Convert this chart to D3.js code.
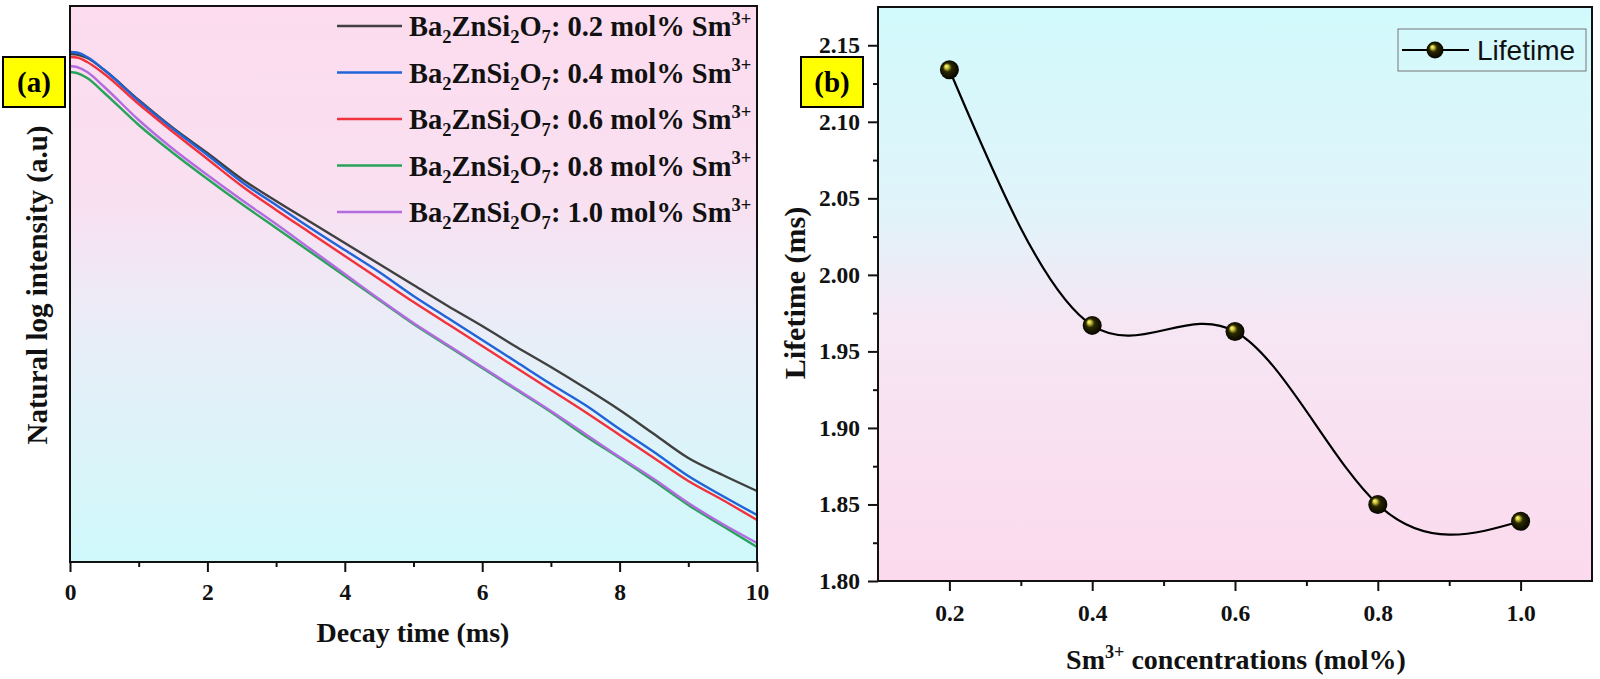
<!DOCTYPE html>
<html>
<head>
<meta charset="utf-8">
<script src="https://cdn.jsdelivr.net/npm/d3@7"></script>
<style>
    body { margin: 0; background: #fff; }
    svg { display: block; }
</style>
</head>
<body>
<svg id="chart"></svg>
<script>
// ---- data, panel (a): natural log decay curves ----
const decayTime = [0, 0.1, 0.25, 0.5, 1, 1.5, 2, 2.5, 3, 3.5, 4, 4.5, 5, 5.5, 6, 6.5, 7, 7.5, 8, 8.5, 9, 9.5, 10]
const concLabels = ["0.2", "0.4", "0.6", "0.8", "1.0"]
const lnI_02 = [8.08, 8.075, 8.04, 7.92, 7.62, 7.34, 7.09, 6.83, 6.61, 6.40, 6.19, 5.98, 5.77, 5.56, 5.36, 5.15, 4.95, 4.74, 4.52, 4.28, 4.04, 3.87, 3.71]
const lnI_04 = [8.10, 8.095, 8.05, 7.92, 7.61, 7.33, 7.07, 6.80, 6.57, 6.34, 6.12, 5.90, 5.66, 5.44, 5.22, 5.00, 4.78, 4.57, 4.33, 4.10, 3.86, 3.66, 3.47]
const lnI_06 = [8.05, 8.045, 8.00, 7.88, 7.58, 7.30, 7.03, 6.76, 6.52, 6.29, 6.06, 5.83, 5.60, 5.38, 5.16, 4.94, 4.72, 4.50, 4.27, 4.04, 3.81, 3.62, 3.42]
const lnI_08 = [7.90, 7.89, 7.84, 7.69, 7.37, 7.09, 6.83, 6.58, 6.34, 6.10, 5.86, 5.62, 5.38, 5.16, 4.94, 4.72, 4.50, 4.26, 4.04, 3.81, 3.57, 3.36, 3.15]
const lnI_10 = [7.96, 7.95, 7.90, 7.75, 7.42, 7.13, 6.87, 6.62, 6.38, 6.13, 5.88, 5.63, 5.39, 5.17, 4.95, 4.73, 4.51, 4.28, 4.05, 3.83, 3.59, 3.38, 3.19]
const decayTicks = [0, 2, 4, 6, 8, 10]
const decayMinorTicks = [1, 3, 5, 7, 9]

// ---- data, panel (b): lifetime vs concentration ----
const concentration = [0.2, 0.4, 0.6, 0.8, 1.0]
const lifetime = [2.134, 1.967, 1.963, 1.850, 1.839]
const concTicks = [0.2, 0.4, 0.6, 0.8, 1.0]
const concMinorTicks = [0.3, 0.5, 0.7, 0.9]
const lifetimeTicks = [1.80, 1.85, 1.90, 1.95, 2.00, 2.05, 2.10, 2.15]
const lifetimeMinorTicks = [1.825, 1.875, 1.925, 1.975, 2.025, 2.075, 2.125]

const seriesColors = ["#404040", "#1f64d8", "#f0323c", "#27a35a", "#b36be0"]
const serif = "'Liberation Serif', 'Times New Roman', serif"
const sans = "'Liberation Sans', Arial, sans-serif"

const W = 1600, H = 679

const svg = d3.select("svg#chart").attr("width", W).attr("height", H)
const defs = svg.append("defs")

function vGradient(id, stops) {
    const g = defs.append("linearGradient").attr("id", id)
        .attr("x1", 0).attr("y1", 0).attr("x2", 0).attr("y2", 1)
    stops.forEach(s => g.append("stop").attr("offset", s[0]).attr("stop-color", s[1]))
}
vGradient("bgA", [["0%", "#fcdcee"], ["35%", "#f9e0f1"], ["60%", "#e8eef8"], ["100%", "#cff9fb"]])
vGradient("bgB", [["0%", "#d2fafc"], ["35%", "#e0f4fa"], ["55%", "#f6e6f4"], ["100%", "#fcdaee"]])

const ball = defs.append("radialGradient").attr("id", "ball")
    .attr("cx", "50%").attr("cy", "50%").attr("r", "55%").attr("fx", "32%").attr("fy", "30%")
ball.append("stop").attr("offset", "0%").attr("stop-color", "#ffff90")
ball.append("stop").attr("offset", "16%").attr("stop-color", "#d8d040")
ball.append("stop").attr("offset", "42%").attr("stop-color", "#2a2800")
ball.append("stop").attr("offset", "100%").attr("stop-color", "#000")

// writes text made of runs; sub/sup runs are smaller and shifted
function richText(sel, parts, size) {
    let shift = 0
    parts.forEach(p => {
        const target = p.sub ? size * 0.25 : p.sup ? -size * 0.4 : 0
        sel.append("tspan")
            .attr("dy", target - shift)
            .style("font-size", (p.sub || p.sup ? size * 0.65 : size) + "px")
            .text(p.t)
        shift = target
    })
}

function styleAxis(g, fontSize) {
    g.select(".domain").remove()
    g.selectAll(".tick line").attr("stroke", "#111").attr("stroke-width", 2)
    g.selectAll(".tick text")
        .style("font-family", serif).style("font-weight", "bold")
        .style("font-size", fontSize + "px").attr("fill", "#111")
}

function title(x, y, rotate, size, txt) {
    return svg.append("text")
        .attr("transform", `translate(${x},${y})` + (rotate ? " rotate(-90)" : ""))
        .attr("text-anchor", "middle").attr("fill", "#111")
        .style("font-family", serif).style("font-weight", "bold").style("font-size", size + "px")
        .text(txt)
}

function labelBox(x, y, label) {
    svg.append("rect").attr("x", x).attr("y", y).attr("width", 62).attr("height", 50)
        .attr("fill", "#ffff00").attr("stroke", "#000").attr("stroke-width", 2)
    svg.append("text").attr("x", x + 31).attr("y", y + 35)
        .attr("text-anchor", "middle")
        .style("font-family", serif).style("font-weight", "bold").style("font-size", "29px")
        .text(label)
}

const drawDecayPanel = function () {
    const x = d3.scaleLinear().domain([0, 10]).range([70, 757])
    const y = d3.scaleLinear().domain([3.0, 8.56]).range([562, 6])
    const series = [lnI_02, lnI_04, lnI_06, lnI_08, lnI_10]

    svg.append("rect").attr("x", 70).attr("y", 6).attr("width", 687).attr("height", 556)
        .attr("fill", "url(#bgA)")

    const line = d3.line().x((d, i) => x(decayTime[i])).y(d => y(d)).curve(d3.curveMonotoneX)
    series.forEach((vals, i) => {
        svg.append("path").datum(vals).attr("d", line)
            .attr("fill", "none").attr("stroke", seriesColors[i]).attr("stroke-width", 2.4)
    })

    svg.append("rect").attr("x", 70).attr("y", 6).attr("width", 687).attr("height", 556)
        .attr("fill", "none").attr("stroke", "#111").attr("stroke-width", 2)

    const ax = svg.append("g").attr("transform", "translate(0,562)")
        .call(d3.axisBottom(x).tickValues(decayTicks).tickSize(10).tickPadding(11).tickFormat(d3.format("d")))
    styleAxis(ax, 23.5)
    const axm = svg.append("g").attr("transform", "translate(0,562)")
        .call(d3.axisBottom(x).tickValues(decayMinorTicks).tickSize(5).tickFormat(""))
    styleAxis(axm, 23.5)

    title(413, 642, false, 28, "Decay time (ms)")
    title(47, 285, true, 29, "Natural log intensity (a.u)")

    // legend
    concLabels.forEach((c, i) => {
        const ly = 26 + i * 46.5
        svg.append("line").attr("x1", 337).attr("x2", 402).attr("y1", ly).attr("y2", ly)
            .attr("stroke", seriesColors[i]).attr("stroke-width", 2.5)
        const t = svg.append("text").attr("x", 409).attr("y", ly + 10)
            .style("font-family", serif).style("font-weight", "bold").attr("fill", "#111")
        richText(t, [
            { t: "Ba" }, { t: "2", sub: true }, { t: "ZnSi" }, { t: "2", sub: true },
            { t: "O" }, { t: "7", sub: true }, { t: ": " + c + " mol% Sm" }, { t: "3+", sup: true }
        ], 28.5)
    })

    labelBox(3, 57, "(a)")
}

const drawLifetimePanel = function () {
    const x = d3.scaleLinear().domain([0.1, 1.1]).range([878, 1592])
    const y = d3.scaleLinear().domain([1.80, 2.175]).range([581, 7])

    svg.append("rect").attr("x", 878).attr("y", 7).attr("width", 714).attr("height", 574)
        .attr("fill", "url(#bgB)")

    const pts = concentration.map((c, i) => [c, lifetime[i]])
    svg.append("path").datum(pts)
        .attr("d", d3.line().x(d => x(d[0])).y(d => y(d[1])).curve(d3.curveNatural))
        .attr("fill", "none").attr("stroke", "#000").attr("stroke-width", 2.2)

    svg.selectAll("circle.pt").data(pts).join("circle").attr("class", "pt")
        .attr("cx", d => x(d[0])).attr("cy", d => y(d[1])).attr("r", 9.5)
        .attr("fill", "url(#ball)")

    svg.append("rect").attr("x", 878).attr("y", 7).attr("width", 714).attr("height", 574)
        .attr("fill", "none").attr("stroke", "#111").attr("stroke-width", 2)

    const ax = svg.append("g").attr("transform", "translate(0,581)")
        .call(d3.axisBottom(x).tickValues(concTicks).tickSize(10).tickPadding(13).tickFormat(d3.format(".1f")))
    styleAxis(ax, 23.5)
    const axm = svg.append("g").attr("transform", "translate(0,581)")
        .call(d3.axisBottom(x).tickValues(concMinorTicks).tickSize(5).tickFormat(""))
    styleAxis(axm, 23.5)

    const ay = svg.append("g").attr("transform", "translate(878,0)")
        .call(d3.axisLeft(y).tickValues(lifetimeTicks).tickSize(10).tickPadding(8).tickFormat(d3.format(".2f")))
    styleAxis(ay, 23.5)
    const aym = svg.append("g").attr("transform", "translate(878,0)")
        .call(d3.axisLeft(y).tickValues(lifetimeMinorTicks).tickSize(5).tickFormat(""))
    styleAxis(aym, 23.5)

    const xt = title(1236, 669, false, 28, "")
    richText(xt, [{ t: "Sm" }, { t: "3+", sup: true }, { t: " concentrations (mol%)" }], 28)

    title(805, 293, true, 30, "Lifetime (ms)")

    // legend
    svg.append("rect").attr("x", 1398).attr("y", 29).attr("width", 188).attr("height", 42)
        .attr("fill", "none").attr("stroke", "#777").attr("stroke-width", 1)
    svg.append("line").attr("x1", 1402).attr("x2", 1469).attr("y1", 50).attr("y2", 50)
        .attr("stroke", "#000").attr("stroke-width", 2)
    svg.append("circle").attr("cx", 1435).attr("cy", 50).attr("r", 8.5).attr("fill", "url(#ball)")
    svg.append("text").attr("x", 1477).attr("y", 60)
        .style("font-family", sans).style("font-size", "28px").attr("fill", "#111")
        .text("Lifetime")

    labelBox(801, 57, "(b)")
}

drawDecayPanel()
drawLifetimePanel()
</script>
</body>
</html>
